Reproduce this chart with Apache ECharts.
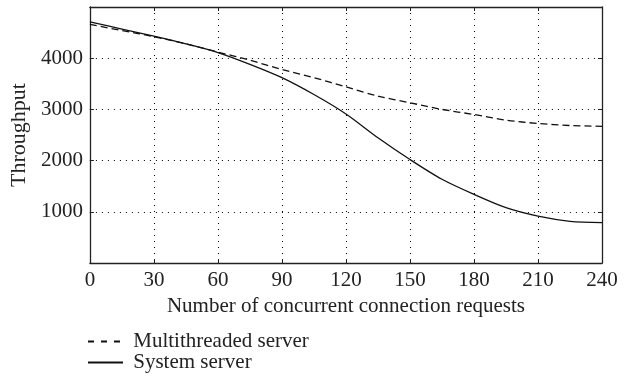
<!DOCTYPE html>
<html>
<head>
<meta charset="utf-8">
<script src="https://cdn.jsdelivr.net/npm/echarts@6/dist/echarts.min.js"></script>
<style>html,body{margin:0;padding:0;background:#fff;}#c{width:629px;height:377px;}</style>
</head>
<body>
<div id="c"></div>
<script>
const connections = [0, 15, 30, 45, 60, 75, 90, 105, 120, 135, 150, 165, 180, 195, 210, 225, 240];
const multithreaded = [4660, 4540, 4420, 4280, 4120, 3960, 3780, 3620, 3440, 3260, 3130, 3000, 2900, 2790, 2725, 2685, 2670];
const systemServer = [4710, 4570, 4430, 4280, 4110, 3880, 3620, 3290, 2910, 2445, 2020, 1635, 1340, 1080, 915, 815, 790];
const seriesNames = ['Multithreaded server', 'System server'];

const FONT = 'Liberation Serif';
const TXT = '#222';
const chart = echarts.init(document.getElementById('c'), null, {renderer: 'canvas'});
const pair = (xs, ys) => xs.map((x, i) => [x, ys[i]]);
const gridLine = {show: true, lineStyle: {color: '#000', type: [1, 5], width: 1}};
const frameLine = {show: true, onZero: false, lineStyle: {color: '#222', width: 1.3}};
const tick = {show: true, inside: true, length: 4, lineStyle: {color: '#222'}};
chart.setOption({
  animation: false,
  backgroundColor: '#fff',
  grid: {left: 89, right: 27, top: 7, bottom: 114, containLabel: false},
  legend: {
    orient: 'vertical', left: 87, top: 331, height: 46, padding: 0,
    itemGap: 0, itemWidth: 35, itemHeight: 14,
    formatter: ' {name}',
    itemStyle: {opacity: 0},
    textStyle: {fontFamily: FONT, fontSize: 21, color: TXT},
    data: [
      {name: seriesNames[0], lineStyle: {type: [6, 7]}},
      {name: seriesNames[1]}
    ]
  },
  xAxis: [{
    type: 'value', min: 0, max: 240, interval: 30,
    name: 'Number of concurrent connection requests', nameLocation: 'middle', nameGap: 27,
    nameTextStyle: {fontFamily: FONT, fontSize: 21, color: TXT},
    axisLine: frameLine, axisTick: tick,
    axisLabel: {fontFamily: FONT, fontSize: 21, color: TXT, margin: 7},
    splitLine: gridLine
  }, {
    type: 'value', min: 0, max: 240, interval: 30, position: 'top',
    axisLine: frameLine, axisTick: tick,
    axisLabel: {show: false}, splitLine: {show: false}
  }],
  yAxis: [{
    type: 'value', min: 0, max: 5000, interval: 1000,
    name: 'Throughput', nameLocation: 'middle', nameGap: 50,
    nameTextStyle: {fontFamily: FONT, fontSize: 22, color: TXT},
    axisLine: frameLine, axisTick: tick,
    axisLabel: {fontFamily: FONT, fontSize: 21, color: TXT, margin: 7,
      showMinLabel: false, showMaxLabel: false, formatter: v => String(v)},
    splitLine: gridLine
  }, {
    type: 'value', min: 0, max: 5000, interval: 1000, position: 'right',
    axisLine: frameLine, axisTick: tick,
    axisLabel: {show: false}, splitLine: {show: false}
  }],
  series: [{
    name: seriesNames[0], type: 'line', smooth: 0.3, showSymbol: false, symbol: 'none',
    data: pair(connections, multithreaded),
    lineStyle: {color: '#111', width: 1.3, type: [7, 4]}, itemStyle: {color: '#111'}
  }, {
    name: seriesNames[1], type: 'line', smooth: 0.3, showSymbol: false, symbol: 'none',
    data: pair(connections, systemServer),
    lineStyle: {color: '#111', width: 1.3, type: 'solid'}, itemStyle: {color: '#111'}
  }]
});
</script>
</body>
</html>
